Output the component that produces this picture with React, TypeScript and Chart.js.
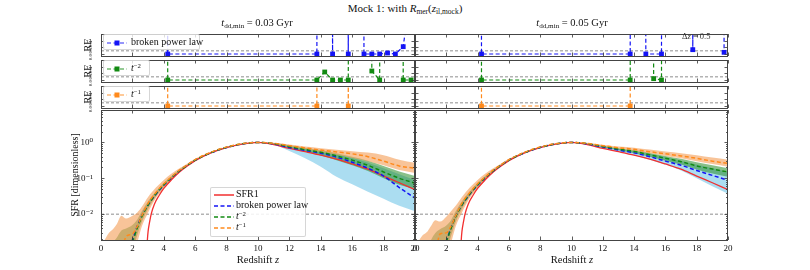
import React, { useEffect, useRef } from "react";
import { Chart, registerables } from "chart.js";

Chart.register(...registerables);

const SERIF = "'Liberation Serif', 'DejaVu Serif', 'Times New Roman', serif";
Chart.defaults.font.family = SERIF;
Chart.defaults.color = "#111";

// ---------- data ----------
const H = 100; // relative error far above the panel (off-scale)
const LO = 0.001; // SFR below the plotted range

const zGrid = [0.2, 0.5, 0.8, 1.0, 1.3, 1.6, 2.0, 2.3, 2.6, 3.0, 3.5, 4.0, 4.5, 5.0, 5.5, 6.0, 7, 8, 9, 10, 11, 12, 13, 14, 15, 16, 17, 18, 19, 20];

const zSfr1 = [2.9, 2.95, 3.0, 3.1, 3.2, 3.4, 3.7, 4.0, 4.5, 5.0, 5.5, 6, 7, 8, 9, 10, 11, 12, 13, 14, 15, 16, 17, 18, 19, 20];
const sfr1 = [0.0008, 0.0018, 0.0033, 0.0062, 0.0102, 0.019, 0.033, 0.052, 0.092, 0.15, 0.22, 0.31, 0.51, 0.72, 0.9, 1.0, 0.87, 0.68, 0.55, 0.44, 0.34, 0.25, 0.18, 0.115, 0.075, 0.048];

// left column: t_dd,min = 0.03 Gyr
const bplL = [LO, LO, LO, LO, LO, LO, 0.0019, 0.0045, 0.009, 0.018, 0.036, 0.064, 0.104, 0.16, 0.23, 0.32, 0.51, 0.72, 0.9, 1.0, 0.9, 0.72, 0.6, 0.5, 0.39, 0.28, 0.19, 0.115, 0.055, 0.028];
const tm2L = [LO, LO, LO, LO, LO, LO, 0.0017, 0.004, 0.0085, 0.018, 0.037, 0.066, 0.106, 0.162, 0.232, 0.322, 0.52, 0.73, 0.91, 1.0, 0.92, 0.76, 0.63, 0.53, 0.42, 0.32, 0.23, 0.15, 0.1, 0.073];
const tm1L = [LO, LO, LO, LO, LO, 0.0024, 0.0028, 0.0045, 0.009, 0.02, 0.04, 0.07, 0.11, 0.168, 0.238, 0.33, 0.53, 0.74, 0.92, 1.0, 0.94, 0.81, 0.7, 0.61, 0.54, 0.48, 0.4, 0.3, 0.22, 0.19];
const bplBandHiL = [LO, LO, LO, LO, LO, LO, 0.0022, 0.005, 0.0105, 0.02, 0.039, 0.068, 0.108, 0.165, 0.235, 0.325, 0.52, 0.73, 0.91, 1.01, 0.94, 0.79, 0.67, 0.57, 0.47, 0.37, 0.27, 0.19, 0.13, 0.09];
const bplBandLoL = [LO, LO, LO, LO, LO, LO, LO, 0.0035, 0.008, 0.016, 0.033, 0.06, 0.1, 0.155, 0.225, 0.315, 0.5, 0.71, 0.89, 0.99, 0.86, 0.58, 0.36, 0.21, 0.11, 0.068, 0.042, 0.027, 0.017, 0.012];
const tm2BandHiL = [LO, LO, 0.0017, 0.0022, 0.0035, 0.004, 0.005, 0.007, 0.012, 0.023, 0.043, 0.074, 0.115, 0.172, 0.243, 0.335, 0.535, 0.745, 0.925, 1.015, 0.96, 0.83, 0.71, 0.61, 0.5, 0.4, 0.31, 0.22, 0.155, 0.115];
const tm2BandLoL = [LO, LO, LO, LO, LO, LO, LO, 0.0025, 0.006, 0.014, 0.031, 0.058, 0.097, 0.152, 0.222, 0.31, 0.505, 0.715, 0.895, 0.985, 0.88, 0.7, 0.55, 0.43, 0.32, 0.23, 0.16, 0.1, 0.066, 0.05];
const tm1BandHiL = [0.0018, 0.003, 0.004, 0.0052, 0.009, 0.0075, 0.009, 0.011, 0.016, 0.03, 0.055, 0.09, 0.135, 0.19, 0.26, 0.35, 0.55, 0.76, 0.935, 1.02, 0.98, 0.87, 0.77, 0.69, 0.62, 0.57, 0.52, 0.44, 0.33, 0.27];
const tm1BandLoL = [LO, LO, LO, LO, LO, LO, LO, 0.0016, 0.0045, 0.011, 0.028, 0.052, 0.09, 0.145, 0.215, 0.305, 0.5, 0.71, 0.895, 0.98, 0.9, 0.76, 0.64, 0.54, 0.45, 0.37, 0.3, 0.23, 0.17, 0.14];

// right column: t_dd,min = 0.05 Gyr
const bplR = [LO, LO, LO, LO, LO, LO, 0.0018, 0.0042, 0.0088, 0.018, 0.036, 0.064, 0.104, 0.16, 0.23, 0.32, 0.51, 0.72, 0.9, 1.0, 0.9, 0.74, 0.61, 0.51, 0.4, 0.3, 0.23, 0.165, 0.12, 0.088];
const tm2R = [LO, LO, LO, LO, LO, LO, 0.0017, 0.004, 0.0085, 0.018, 0.037, 0.066, 0.106, 0.162, 0.232, 0.322, 0.52, 0.73, 0.91, 1.0, 0.92, 0.77, 0.65, 0.56, 0.45, 0.36, 0.29, 0.22, 0.18, 0.15];
const tm1R = [LO, LO, LO, LO, LO, 0.0028, 0.003, 0.0046, 0.009, 0.02, 0.04, 0.07, 0.11, 0.168, 0.238, 0.33, 0.53, 0.74, 0.92, 1.0, 0.94, 0.81, 0.71, 0.64, 0.55, 0.48, 0.42, 0.36, 0.3, 0.26];
const bplBandHiR = [LO, LO, LO, LO, LO, LO, 0.0021, 0.005, 0.0102, 0.02, 0.039, 0.068, 0.108, 0.165, 0.235, 0.325, 0.52, 0.73, 0.91, 1.01, 0.93, 0.79, 0.67, 0.58, 0.48, 0.39, 0.31, 0.24, 0.19, 0.15];
const bplBandLoR = [LO, LO, LO, LO, LO, LO, LO, 0.0034, 0.0078, 0.016, 0.033, 0.06, 0.1, 0.155, 0.225, 0.315, 0.5, 0.71, 0.89, 0.99, 0.86, 0.69, 0.55, 0.44, 0.33, 0.24, 0.165, 0.1, 0.06, 0.037];
const tm2BandHiR = [LO, LO, LO, 0.0018, 0.003, 0.0038, 0.0048, 0.0068, 0.012, 0.023, 0.043, 0.074, 0.115, 0.172, 0.243, 0.335, 0.535, 0.745, 0.925, 1.015, 0.95, 0.81, 0.69, 0.61, 0.51, 0.42, 0.35, 0.28, 0.23, 0.19];
const tm2BandLoR = [LO, LO, LO, LO, LO, LO, LO, 0.0024, 0.006, 0.014, 0.031, 0.058, 0.097, 0.152, 0.222, 0.31, 0.505, 0.715, 0.895, 0.985, 0.89, 0.73, 0.6, 0.5, 0.4, 0.31, 0.24, 0.175, 0.135, 0.11];
const tm1BandHiR = [0.0017, 0.0026, 0.0033, 0.0045, 0.0068, 0.0062, 0.0085, 0.012, 0.017, 0.03, 0.055, 0.09, 0.135, 0.19, 0.26, 0.35, 0.55, 0.76, 0.935, 1.02, 0.97, 0.86, 0.77, 0.71, 0.63, 0.56, 0.5, 0.44, 0.38, 0.33];
const tm1BandLoR = [LO, LO, LO, LO, LO, LO, LO, 0.0016, 0.0045, 0.011, 0.028, 0.052, 0.09, 0.145, 0.215, 0.305, 0.5, 0.71, 0.895, 0.98, 0.91, 0.77, 0.67, 0.58, 0.5, 0.42, 0.36, 0.3, 0.25, 0.21];

// relative-error panels (Δz = 0.5 bins)
const reZBplL = [3.75, 4.25, 13.75, 14.25, 14.75, 15.25, 15.75, 16.25, 16.75, 17.25, 17.75, 18.25, 18.75, 19.25, 19.75];
const reBplL = [H, 0, 0, H, 0, H, 0, H, 0, 0, 0, 0.03, 0, 0.22, 2];
const reZTm2L = [3.75, 4.25, 13.75, 14.25, 14.75, 15.25, 15.75, 16.25, 16.75, 17.25, 17.75, 18.25, 18.75, 19.25, 19.75];
const reTm2L = [H, 0, 0, 0.24, 0, 0, 0, H, H, 0.27, 0, H, H, 0, 0];
const reZTm1L = [3.75, 4.25, 13.75, 14.25, 15.25, 15.75, 16.25];
const reTm1L = [H, 0, 0, H, H, 0, H];

const reZBplR = [3.75, 4.25, 13.75, 14.25, 14.75, 15.75, 16.25, 17.25, 17.75, 18.25, 19.25, 19.75];
const reBplR = [H, 0, 0, H, 0, 0, H, H, 0.13, H, H, 0.05];
const reZTm2R = [3.75, 4.25, 13.75, 14.25, 14.75, 15.25, 15.75, 16.25];
const reTm2R = [H, 0, 0, H, H, 0.04, 0, H];
const reZTm1R = [3.75, 4.25, 13.75, 14.25];
const reTm1R = [H, 0, 0, H];

const RE_THRESHOLD = 0.1;
const SFR_THRESHOLD = 0.01;
const xTickValues = [0, 2, 4, 6, 8, 10, 12, 14, 16, 18, 20];
const reTickValues = [0, 0.2, 0.4];

// ---------- styles ----------
const RED = "#f22f2f";
const BLUE = "#1414f5";
const GREEN = "#128a12";
const ORANGE = "#ff8a1c";
const GRAY = "#b3b3b3";
const BAND_BLUE = "rgba(135,206,235,0.7)";
const BAND_GREEN = "rgba(40,140,40,0.55)";
const BAND_ORANGE = "rgba(244,160,90,0.62)";

const pts = (xs: number[], ys: number[]) => xs.map((x, i) => ({ x, y: ys[i] }));

const logTicks: { v: number; major: boolean }[] = [];
for (let e = -3; e <= 0; e++) {
  for (let m = 1; m <= 9; m++) {
    const v = m * Math.pow(10, e);
    if (v >= 0.0019 && v <= 8) logTicks.push({ v, major: m === 1 });
  }
}
const SUP: Record<string, string> = { "0": "⁰", "1": "¹", "2": "²", "3": "³", "-": "⁻" };
const decadeLabel = (v: number) => {
  const l = Math.log10(v);
  if (Math.abs(l - Math.round(l)) > 1e-6) return "";
  return "10" + String(Math.round(l)).split("").map((c) => SUP[c]).join("");
};

const zeroPad = (s: any) => {
  s.paddingTop = 0;
  s.paddingBottom = 0;
  s.paddingLeft = 0;
  s.paddingRight = 0;
};

const frameTicks = {
  id: "frameTicks",
  afterDatasetsDraw(chart: any, _a: any, opts: any) {
    const { ctx, chartArea: a, scales } = chart;
    const xs = scales.x;
    const ys = scales.y;
    ctx.save();
    ctx.strokeStyle = "#333";
    ctx.lineWidth = 0.8;
    ctx.beginPath();
    for (const v of opts.x || []) {
      const p = Math.round(xs.getPixelForValue(v)) + 0.5;
      ctx.moveTo(p, a.bottom);
      ctx.lineTo(p, a.bottom - 3.5);
      ctx.moveTo(p, a.top);
      ctx.lineTo(p, a.top + 3.5);
    }
    for (const t of opts.y || []) {
      const p = Math.round(ys.getPixelForValue(t.v)) + 0.5;
      const L = t.major ? 3.5 : 2;
      ctx.moveTo(a.left, p);
      ctx.lineTo(a.left + L, p);
      ctx.moveTo(a.right, p);
      ctx.lineTo(a.right - L, p);
    }
    ctx.stroke();
    ctx.lineWidth = 1;
    ctx.strokeStyle = "#444";
    ctx.strokeRect(Math.round(a.left) + 0.5, Math.round(a.top) + 0.5, Math.round(a.width) - 1, Math.round(a.height));
    ctx.restore();
  },
};

const baseOptions = (padding: any) => ({
  animation: false,
  responsive: false,
  maintainAspectRatio: false,
  events: [],
  layout: { padding },
  plugins: { legend: { display: false }, tooltip: { enabled: false } } as any,
});

function reConfig(zs: number[], vals: number[], color: string, leftCol: boolean) {
  const o: any = baseOptions(leftCol ? { left: 82, right: 8, top: 2, bottom: 2 } : { left: 0, right: 8, top: 2, bottom: 2 });
  o.plugins.frameTicks = { x: xTickValues, y: reTickValues.map((v) => ({ v, major: true })) };
  o.scales = {
    x: { type: "linear", min: 0, max: 20, display: false, afterFit: zeroPad },
    y: {
      type: "linear",
      min: -0.06,
      max: 0.6,
      grid: { display: false },
      border: { display: false },
      ticks: {
        display: leftCol,
        font: { size: 5 },
        padding: 2,
        minRotation: 90,
        maxRotation: 90,
        callback: (v: number) => v.toFixed(1),
      },
      title: { display: leftCol, text: "RE", font: { size: 10 }, padding: { top: 0, bottom: 0 }, color: "#111" },
      afterBuildTicks: (s: any) => {
        s.ticks = reTickValues.map((v) => ({ value: v }));
      },
      afterFit: (s: any) => {
        s.width = leftCol ? 19 : 10;
        zeroPad(s);
      },
    },
  };
  return {
    type: "line",
    data: {
      datasets: [
        {
          data: pts([0, 20], [RE_THRESHOLD, RE_THRESHOLD]),
          borderColor: GRAY,
          borderWidth: 1.5,
          borderDash: [3, 2],
          pointRadius: 0,
          order: 5,
          clip: 0,
        },
        {
          data: pts(zs, vals),
          borderColor: color,
          borderWidth: 1.2,
          borderDash: [4, 2.5],
          pointStyle: "rect",
          pointRadius: 3.4,
          pointBackgroundColor: color,
          pointBorderWidth: 0,
          order: 1,
          clip: 0,
        },
      ],
    },
    options: o,
    plugins: [frameTicks],
  };
}

function sfrConfig(s: any, leftCol: boolean) {
  const o: any = baseOptions(leftCol ? { left: 69, right: 8, top: 2, bottom: 0 } : { left: 0, right: 8, top: 2, bottom: 0 });
  o.plugins.frameTicks = { x: xTickValues, y: logTicks };
  o.scales = {
    x: {
      type: "linear",
      min: 0,
      max: 20,
      grid: { display: false, drawTicks: false },
      border: { display: false },
      ticks: { font: { size: 9 }, padding: 3, maxRotation: 0, autoSkip: false, color: "#111" },
      afterBuildTicks: (sc: any) => {
        sc.ticks = xTickValues.map((v) => ({ value: v }));
      },
      afterFit: (sc: any) => {
        sc.height = 30;
        zeroPad(sc);
      },
    },
    y: {
      type: "logarithmic",
      min: 0.0019,
      max: 8,
      grid: { display: false, drawTicks: false },
      border: { display: false },
      ticks: { display: leftCol, font: { size: 9 }, padding: 8, autoSkip: false, callback: (v: number) => decadeLabel(v), color: "#111" },
      title: {
        display: leftCol,
        text: "SFR [dimensionless]",
        font: { size: 10 },
        padding: { top: 0, bottom: 0 },
        color: "#111",
      },
      afterBuildTicks: (sc: any) => {
        sc.ticks = logTicks.map((t) => ({ value: t.v, major: t.major }));
      },
      afterFit: (sc: any) => {
        sc.width = leftCol ? 32 : 10;
        zeroPad(sc);
      },
    },
  };
  const band = (hi: number[], lo: number[], color: string, order: number) => [
    { data: pts(zGrid, hi), borderWidth: 0, pointRadius: 0, backgroundColor: color, fill: "+1", order, clip: 0, cubicInterpolationMode: "monotone" },
    { data: pts(zGrid, lo), borderWidth: 0, pointRadius: 0, fill: false, order, clip: 0, cubicInterpolationMode: "monotone" },
  ];
  const line = (xs: number[], ys: number[], color: string, dashed: boolean, order: number) => ({
    data: pts(xs, ys),
    borderColor: color,
    borderWidth: dashed ? 1.5 : 1.3,
    borderDash: dashed ? [4, 2.5] : [],
    pointRadius: 0,
    fill: false,
    order,
    clip: 0,
    cubicInterpolationMode: "monotone",
  });
  return {
    type: "line",
    data: {
      datasets: [
        {
          data: pts([0, 20], [SFR_THRESHOLD, SFR_THRESHOLD]),
          borderColor: GRAY,
          borderWidth: 1.5,
          borderDash: [3, 2],
          pointRadius: 0,
          order: 30,
          clip: 0,
        },
        ...band(s.bplHi, s.bplLo, BAND_BLUE, 20),
        ...band(s.tm2Hi, s.tm2Lo, BAND_GREEN, 19),
        ...band(s.tm1Hi, s.tm1Lo, BAND_ORANGE, 18),
        line(zSfr1, sfr1, RED, false, 4),
        line(zGrid, s.bpl, BLUE, true, 3),
        line(zGrid, s.tm2, GREEN, true, 2),
        line(zGrid, s.tm1, ORANGE, true, 1),
      ],
    },
    options: o,
    plugins: [frameTicks],
  };
}

const leftSeries = { bpl: bplL, tm2: tm2L, tm1: tm1L, bplHi: bplBandHiL, bplLo: bplBandLoL, tm2Hi: tm2BandHiL, tm2Lo: tm2BandLoL, tm1Hi: tm1BandHiL, tm1Lo: tm1BandLoL };
const rightSeries = { bpl: bplR, tm2: tm2R, tm1: tm1R, bplHi: bplBandHiR, bplLo: bplBandLoR, tm2Hi: tm2BandHiR, tm2Lo: tm2BandLoR, tm1Hi: tm1BandHiR, tm1Lo: tm1BandLoR };

function ChartBox({ left, top, width, height, make }: any) {
  const ref = useRef<HTMLCanvasElement>(null);
  useEffect(() => {
    const chart = new Chart(ref.current as HTMLCanvasElement, make());
    return () => chart.destroy();
  }, []);
  return (
    <div style={{ position: "absolute", left, top, width, height }}>
      <canvas ref={ref} width={width} height={height} style={{ width, height, display: "block" }} />
    </div>
  );
}

function Sample({ color, dashed, marker }: { color: string; dashed: boolean; marker?: boolean }) {
  return (
    <svg width={20} height={8} style={{ display: "block" }}>
      <line x1={0} y1={4} x2={20} y2={4} stroke={color} strokeWidth={1.5} strokeDasharray={dashed ? "4 2.5" : undefined} strokeOpacity={marker ? 0.6 : 1} />
      {marker && <rect x={7.5} y={1.5} width={5} height={5} fill={color} />}
    </svg>
  );
}

const subStyle: React.CSSProperties = { fontSize: "0.68em", verticalAlign: "-0.25em", lineHeight: 0 };
const supStyle: React.CSSProperties = { fontSize: "0.68em", verticalAlign: "0.45em", lineHeight: 0 };

const legendLabels = ["SFR1", "broken power law", "t-2", "t-1"];
const Label = ({ text }: { text: string }) =>
  text === "t-2" ? (
    <span><i>t</i><span style={supStyle}>−2</span></span>
  ) : text === "t-1" ? (
    <span><i>t</i><span style={supStyle}>−1</span></span>
  ) : (
    <span>{text}</span>
  );

function ReLegend({ top, width, color, text }: any) {
  return (
    <div
      style={{
        position: "absolute",
        left: 103,
        top,
        width,
        height: 16,
        background: "rgba(255,255,255,0.8)",
        border: "1px solid rgba(204,204,204,0.8)",
        borderRadius: 2,
        boxSizing: "border-box",
      }}
    >
      <div style={{ position: "absolute", left: 3, top: 3.5 }}>
        <Sample color={color} dashed marker />
      </div>
      <div style={{ position: "absolute", left: 27, top: 1, fontSize: 10, lineHeight: "12px", whiteSpace: "nowrap" }}>
        <Label text={text} />
      </div>
    </div>
  );
}

export default function App() {
  const colors = [RED, BLUE, GREEN, ORANGE];
  return (
    <div style={{ position: "fixed", left: 0, top: 0, width: 810, height: 270, background: "#fff", fontFamily: SERIF, color: "#111", overflow: "hidden" }}>
      {/* left column */}
      <ChartBox left={0} top={30} width={423} height={30} make={() => reConfig(reZBplL, reBplL, BLUE, true)} />
      <ChartBox left={0} top={56} width={423} height={30} make={() => reConfig(reZTm2L, reTm2L, GREEN, true)} />
      <ChartBox left={0} top={82} width={423} height={30} make={() => reConfig(reZTm1L, reTm1L, ORANGE, true)} />
      <ChartBox left={0} top={108} width={423} height={162} make={() => sfrConfig(leftSeries, true)} />
      {/* right column */}
      <ChartBox left={405} top={30} width={331} height={30} make={() => reConfig(reZBplR, reBplR, BLUE, false)} />
      <ChartBox left={405} top={56} width={331} height={30} make={() => reConfig(reZTm2R, reTm2R, GREEN, false)} />
      <ChartBox left={405} top={82} width={331} height={30} make={() => reConfig(reZTm1R, reTm1R, ORANGE, false)} />
      <ChartBox left={405} top={108} width={331} height={162} make={() => sfrConfig(rightSeries, false)} />

      {/* titles */}
      <div style={{ position: "absolute", left: 255, top: 2, width: 300, textAlign: "center", fontSize: 11, lineHeight: "12px" }}>
        Mock 1: with <i>R</i>
        <span style={subStyle}>mer</span>(<i>z</i>
        <span style={subStyle}>il,mock</span>)
      </div>
      <div style={{ position: "absolute", left: 157, top: 17, width: 200, textAlign: "center", fontSize: 10.5, lineHeight: "12px" }}>
        <i>t</i>
        <span style={subStyle}>dd,min</span> = 0.03 Gyr
      </div>
      <div style={{ position: "absolute", left: 472, top: 17, width: 200, textAlign: "center", fontSize: 10.5, lineHeight: "12px" }}>
        <i>t</i>
        <span style={subStyle}>dd,min</span> = 0.05 Gyr
      </div>
      <div style={{ position: "absolute", left: 682, top: 31, fontSize: 8.5, lineHeight: "10px", color: "#333", whiteSpace: "nowrap" }}>
        Δ<i>z</i> = 0.5
      </div>
      <div style={{ position: "absolute", left: 158, top: 254, width: 200, textAlign: "center", fontSize: 10.5, lineHeight: "12px" }}>
        Redshift <i>z</i>
      </div>
      <div style={{ position: "absolute", left: 472, top: 254, width: 200, textAlign: "center", fontSize: 10.5, lineHeight: "12px" }}>
        Redshift <i>z</i>
      </div>

      {/* RE legends */}
      <ReLegend top={34} width={97} color={BLUE} text={legendLabels[1]} />
      <ReLegend top={60} width={47} color={GREEN} text={legendLabels[2]} />
      <ReLegend top={86} width={47} color={ORANGE} text={legendLabels[3]} />

      {/* SFR legend */}
      <div
        style={{
          position: "absolute",
          left: 210,
          top: 187,
          width: 96,
          height: 50,
          background: "rgba(255,255,255,0.85)",
          border: "1px solid rgba(204,204,204,0.8)",
          borderRadius: 2,
          boxSizing: "border-box",
        }}
      >
        {legendLabels.map((t, i) => (
          <React.Fragment key={t}>
            <div style={{ position: "absolute", left: 3, top: 2.5 + i * 11 }}>
              <Sample color={colors[i]} dashed={i > 0} />
            </div>
            <div style={{ position: "absolute", left: 25, top: 0 + i * 11, fontSize: 10, lineHeight: "12px", whiteSpace: "nowrap" }}>
              <Label text={t} />
            </div>
          </React.Fragment>
        ))}
      </div>
    </div>
  );
}
